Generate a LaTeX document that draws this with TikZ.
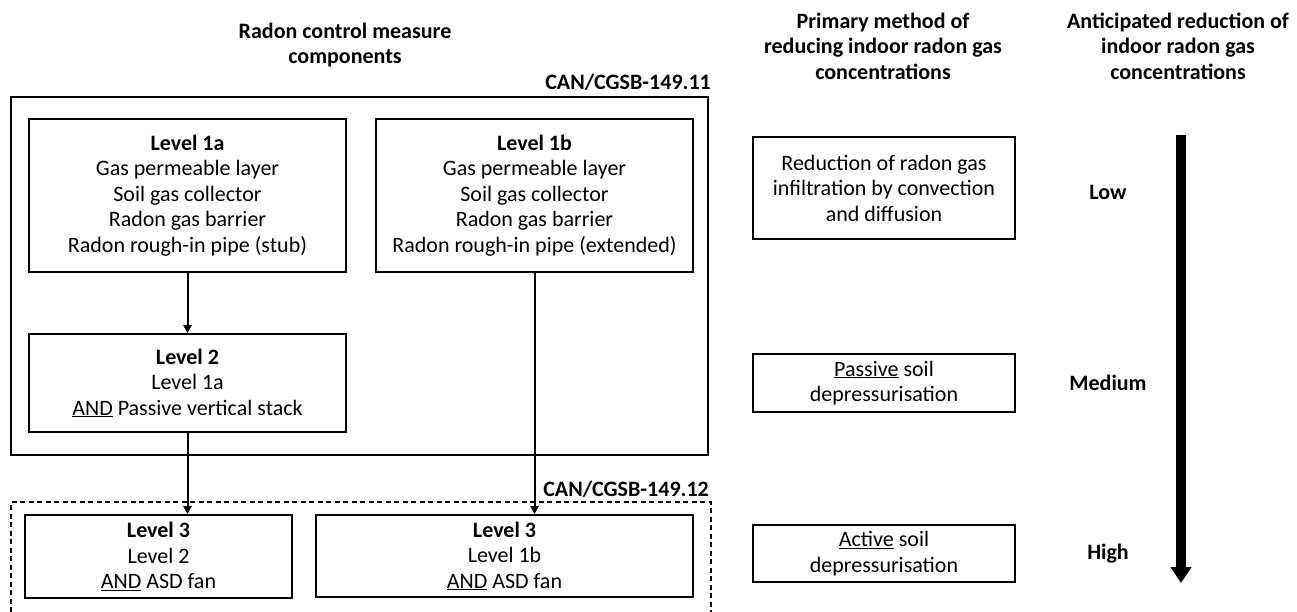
\documentclass[tikz,border=0pt]{standalone}
\usepackage{fontspec}
\setmainfont{Carlito}
\usetikzlibrary{arrows.meta}
\newcommand\bodyfs{\fontsize{22}{25.5}\selectfont}
\begin{document}
\begin{tikzpicture}[x=1pt,y=-1pt,
  box/.style={draw, line width=1.6pt, align=center, inner sep=0pt, font=\bodyfs},
  hdr/.style={align=center, inner sep=0pt, font=\bodyfs\bfseries},
  lbl/.style={inner sep=0pt, font=\bodyfs\bfseries},
  conn/.style={draw, line width=2pt, -{Triangle[length=8pt,width=8pt]}}]
\useasboundingbox (0,0) rectangle (1297,612);
% headers
\node[hdr] (h1) at (345,45) {Radon control measure\\components};
\node[hdr] (h2) at (883,46) {Primary method of\\reducing indoor radon gas\\concentrations};
\node[hdr] (h3) at (1178,46) {Anticipated reduction of\\indoor radon gas\\concentrations};
% outer solid group
\node[draw, line width=1.4pt, minimum width=697, minimum height=358, inner sep=0pt] (g1) at (359.5,276) {};
\node[lbl, anchor=base east] (g1l) at (711,90) {CAN/CGSB-149.11};
% dashed group
\coordinate (d1) at (11,612);
\coordinate (d2) at (11,502);
\coordinate (d3) at (711,502);
\coordinate (d4) at (711,612);
\draw[line width=1.4pt, dash pattern=on 5pt off 3.5pt] (d1) -- (d2) -- (d3) -- (d4);
\node[lbl, anchor=base east] (g2l) at (709,496) {CAN/CGSB-149.12};
% level boxes
\node[box, minimum width=317, minimum height=153] (l1a) at (187.5,195.5)
  {\textbf{Level 1a}\\Gas permeable layer\\Soil gas collector\\Radon gas barrier\\Radon rough-in pipe (stub)};
\node[box, minimum width=317, minimum height=153] (l1b) at (534.5,195.5)
  {\textbf{Level 1b}\\Gas permeable layer\\Soil gas collector\\Radon gas barrier\\Radon rough-in pipe (extended)};
\node[box, minimum width=317, minimum height=98] (l2) at (187.5,383)
  {\textbf{Level 2}\\Level 1a\\\underline{AND} Passive vertical stack};
\node[box, minimum width=267, minimum height=83] (l3a) at (158.5,556.5)
  {\textbf{Level 3}\\Level 2\\\underline{AND} ASD fan};
\node[box, minimum width=377, minimum height=82] (l3b) at (504.5,556)
  {\textbf{Level 3}\\Level 1b\\\underline{AND} ASD fan};
% connectors
\draw[conn] (l1a.south) -- (l2.north);
\draw[conn] (l2.south) -- (l2.south |- l3a.north);
\draw[conn] (l1b.south) -- (l1b.south |- l3b.north);
% method boxes
\node[box, minimum width=262, minimum height=102] (m1) at (884,188)
  {Reduction of radon gas\\infiltration by convection\\and diffusion};
\node[box, minimum width=262, minimum height=58] (m2) at (884,383)
  {\underline{Passive} soil\\depressurisation};
\node[box, minimum width=262, minimum height=57] (m3) at (884,553.5)
  {\underline{Active} soil\\depressurisation};
% reduction labels
\node[lbl] (low) at (1108,192) {Low};
\node[lbl] (med) at (1108,383) {Medium};
\node[lbl] (high) at (1108,554) {High};
% big arrow
\coordinate (at) at (1181,135);
\coordinate (ab) at (1181,583);
\draw[line width=10pt, -{Triangle[length=16pt,width=20pt]}] (at) -- (ab);
\end{tikzpicture}
\end{document}
